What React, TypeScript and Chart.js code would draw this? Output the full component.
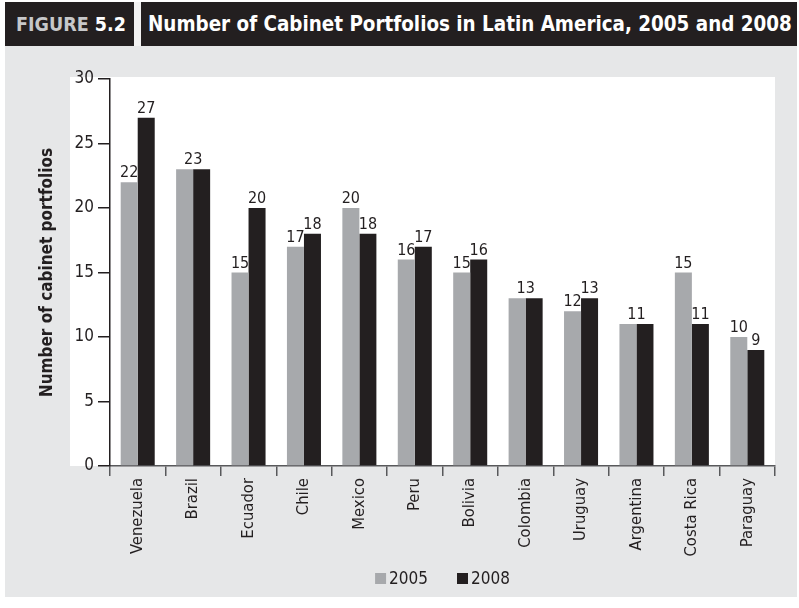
import React, { useEffect, useRef } from "react";
import { Chart, registerables } from "chart.js";

Chart.register(...registerables);

const categories = [
  "Venezuela", "Brazil", "Ecuador", "Chile", "Mexico", "Peru",
  "Bolivia", "Colombia", "Uruguay", "Argentina", "Costa Rica", "Paraguay",
];
const values2005 = [22, 23, 15, 17, 20, 16, 15, 13, 12, 11, 15, 10];
const values2008 = [27, 23, 20, 18, 18, 17, 16, 13, 13, 11, 11, 9];
const seriesLabels = ["2005", "2008"];
const yTicks = [0, 5, 10, 15, 20, 25, 30];

const FONT = "'DejaVu Sans Condensed', 'Liberation Sans Narrow', sans-serif";
const INK = "#231f20";
const GRAY_BAR = "#a7a9ac";
const BG = "#e6e7e8";

const plotBg = {
  id: "plotBg",
  beforeDraw(chart: any) {
    const { ctx, chartArea } = chart;
    ctx.save();
    ctx.fillStyle = "#ffffff";
    ctx.fillRect(65, chartArea.top - 2, chartArea.right - 65, chartArea.bottom - chartArea.top + 2);
    ctx.restore();
  },
};

const valueLabels = {
  id: "valueLabels",
  afterDatasetsDraw(chart: any) {
    const { ctx } = chart;
    const m0 = chart.getDatasetMeta(0);
    const m1 = chart.getDatasetMeta(1);
    const d0 = chart.data.datasets[0].data;
    const d1 = chart.data.datasets[1].data;
    ctx.save();
    ctx.font = `16px ${FONT}`;
    ctx.fillStyle = INK;
    ctx.textAlign = "center";
    ctx.textBaseline = "alphabetic";
    for (let i = 0; i < d0.length; i++) {
      const b0 = m0.data[i];
      const b1 = m1.data[i];
      if (d0[i] === d1[i]) {
        ctx.fillText(String(d0[i]), (b0.x + b1.x) / 2, Math.min(b0.y, b1.y) - 5);
      } else {
        ctx.fillText(String(d0[i]), b0.x, b0.y - 5);
        ctx.fillText(String(d1[i]), b1.x, b1.y - 5);
      }
    }
    ctx.restore();
  },
};

const customLegend = {
  id: "customLegend",
  afterDraw(chart: any) {
    const { ctx, chartArea } = chart;
    const ds = chart.data.datasets;
    ctx.save();
    ctx.font = `17px ${FONT}`;
    const box = 11;
    const gapText = 3;
    const gapItem = 29;
    const widths = ds.map((d: any) => box + gapText + ctx.measureText(d.label).width);
    const total = widths.reduce((a: number, b: number) => a + b, 0) + gapItem * (ds.length - 1);
    let x = (chartArea.left + chartArea.right) / 2 - total / 2;
    const yTop = 527;
    ds.forEach((d: any, i: number) => {
      ctx.fillStyle = d.backgroundColor;
      ctx.fillRect(x, yTop, box, box);
      ctx.fillStyle = INK;
      ctx.textAlign = "left";
      ctx.textBaseline = "alphabetic";
      ctx.fillText(d.label, x + box + gapText, yTop + box);
      x += widths[i] + gapItem;
    });
    ctx.restore();
  },
};

export default function App() {
  const ref = useRef<HTMLCanvasElement | null>(null);

  useEffect(() => {
    if (!ref.current) return;
    const chart = new Chart(ref.current, {
      type: "bar",
      data: {
        labels: categories,
        datasets: [
          { label: seriesLabels[0], data: values2005, backgroundColor: GRAY_BAR, barPercentage: 1, categoryPercentage: 0.614 },
          { label: seriesLabels[1], data: values2008, backgroundColor: INK, barPercentage: 1, categoryPercentage: 0.614 },
        ],
      },
      options: {
        animation: false,
        responsive: false,
        devicePixelRatio: 1,
        layout: { padding: { left: 0, top: 33, right: 22, bottom: 0 } },
        plugins: {
          legend: { display: false },
          tooltip: { enabled: false },
          title: { display: false },
        },
        scales: {
          x: {
            grid: {
              display: true,
              drawOnChartArea: false,
              drawTicks: true,
              tickLength: 10,
              color: "#58595b",
              lineWidth: 1.5,
              offset: true,
            },
            border: { display: true, color: "#58595b", width: 1.5 },
            ticks: {
              autoSkip: false,
              minRotation: 90,
              maxRotation: 90,
              padding: 2,
              color: INK,
              font: { family: FONT, size: 16.5 },
            },
            afterFit(scale: any) {
              scale.height = 131;
            },
          },
          y: {
            min: 0,
            max: 30,
            afterBuildTicks(scale: any) {
              scale.ticks = yTicks.map((v) => ({ value: v }));
            },
            grid: {
              display: true,
              drawOnChartArea: false,
              drawTicks: true,
              tickLength: 12,
              color: INK,
              lineWidth: 1.5,
            },
            border: { display: true, color: INK, width: 1.5 },
            ticks: {
              padding: 4,
              color: INK,
              font: { family: FONT, size: 17 },
            },
            title: {
              display: true,
              text: "Number of cabinet portfolios",
              color: INK,
              font: { family: FONT, size: 17, weight: "bold" },
              padding: { top: 32, bottom: 0 },
            },
            afterFit(scale: any) {
              scale.width = 105;
            },
          },
        },
      },
      plugins: [plotBg, valueLabels, customLegend],
    });
    return () => chart.destroy();
  }, []);

  const headerBox: React.CSSProperties = {
    position: "absolute",
    top: 2,
    height: 44,
    background: INK,
    display: "flex",
    alignItems: "center",
    fontFamily: FONT,
    fontWeight: "bold",
    color: "#ffffff",
    whiteSpace: "nowrap",
    overflow: "hidden",
  };

  return (
    <div style={{ position: "absolute", left: 0, top: 0, width: 799, height: 608, background: "#ffffff" }}>
      <div style={{ ...headerBox, left: 5, width: 129, paddingLeft: 11, boxSizing: "border-box", fontSize: 19.5 }}>
        <span style={{ color: "#c7c8ca" }}>FIGURE</span>
        <span>&nbsp;5.2</span>
      </div>
      <div style={{ position: "absolute", left: 134, top: 2, width: 7, height: 44, background: "#f2f2f2" }} />
      <div style={{ ...headerBox, left: 141, width: 656, paddingLeft: 7, boxSizing: "border-box", fontSize: 20.4 }}>
        Number of Cabinet Portfolios in Latin America, 2005 and 2008
      </div>
      <div style={{ position: "absolute", left: 5, top: 46, width: 792, height: 551, background: BG }}>
        <canvas ref={ref} width={792} height={551} style={{ display: "block", width: 792, height: 551 }} />
      </div>
    </div>
  );
}
